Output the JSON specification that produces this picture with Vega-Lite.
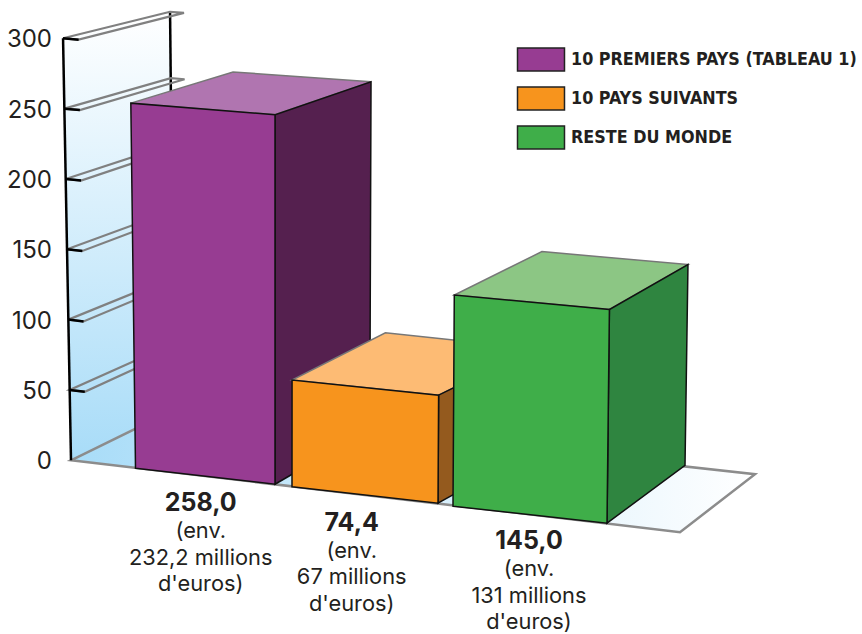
{"$schema":"https://vega.github.io/schema/vega-lite/v6.json","width":862,"height":634,"padding":0,"autosize":{"type":"fit","contains":"padding"},"background":"white","config":{"view":{"stroke":null},"locale":{"number":{"decimal":",","thousands":" ","grouping":[3],"currency":["","€"]}}},"datasets":{"barres":[{"serie":"premiers","valeur":258.0,"detail":"(env.\n232,2 millions\nd'euros)","u":200.7,"v":512},{"serie":"suivants","valeur":74.4,"detail":"(env.\n67 millions\nd'euros)","u":351.7,"v":531.7},{"serie":"reste","valeur":145.0,"detail":"(env.\n131 millions\nd'euros)","u":529,"v":550}],"graduations":[{"valeur":0},{"valeur":50},{"valeur":100},{"valeur":150},{"valeur":200},{"valeur":250},{"valeur":300}],"sommets":[{"famille":"mur","facette":"mur","valeur":300,"u":71,"v":461,"haut":0},{"famille":"mur","facette":"mur","valeur":300,"u":71,"v":461,"haut":1},{"famille":"mur","facette":"mur","valeur":300,"u":174,"v":410.5,"haut":1},{"famille":"mur","facette":"mur","valeur":300,"u":174,"v":410.5,"haut":0},{"famille":"sol","facette":"sol","valeur":0,"u":71,"v":461,"haut":0},{"famille":"sol","facette":"sol","valeur":0,"u":174,"v":410.5,"haut":0},{"famille":"sol","facette":"sol","valeur":0,"u":755,"v":475,"haut":0},{"famille":"sol","facette":"sol","valeur":0,"u":680,"v":533,"haut":0},{"famille":"trait","facette":"fond","valeur":300,"u":174,"v":410.5,"haut":0},{"famille":"trait","facette":"fond","valeur":300,"u":174,"v":410.5,"haut":1},{"famille":"trait","facette":"axe","valeur":300,"u":71,"v":461,"haut":0},{"famille":"trait","facette":"axe","valeur":300,"u":71,"v":461,"haut":1},{"famille":"trait","facette":"t50","valeur":50,"u":71,"v":461,"haut":1},{"famille":"trait","facette":"t50","valeur":50,"u":86,"v":463,"haut":1},{"famille":"trait","facette":"t100","valeur":100,"u":71,"v":461,"haut":1},{"famille":"trait","facette":"t100","valeur":100,"u":86,"v":463,"haut":1},{"famille":"trait","facette":"t150","valeur":150,"u":71,"v":461,"haut":1},{"famille":"trait","facette":"t150","valeur":150,"u":86,"v":463,"haut":1},{"famille":"trait","facette":"t200","valeur":200,"u":71,"v":461,"haut":1},{"famille":"trait","facette":"t200","valeur":200,"u":86,"v":463,"haut":1},{"famille":"trait","facette":"t250","valeur":250,"u":71,"v":461,"haut":1},{"famille":"trait","facette":"t250","valeur":250,"u":86,"v":463,"haut":1},{"famille":"trait","facette":"t300","valeur":300,"u":71,"v":461,"haut":1},{"famille":"trait","facette":"t300","valeur":300,"u":86,"v":463,"haut":1},{"famille":"tablette","facette":"b50","valeur":50,"u":71,"v":461,"haut":1},{"famille":"tablette","facette":"b50","valeur":50,"u":86,"v":463,"haut":1},{"famille":"tablette","facette":"b50","valeur":50,"u":187.4,"v":412,"haut":1},{"famille":"tablette","facette":"b50","valeur":50,"u":174,"v":410.5,"haut":1},{"famille":"tablette","facette":"b100","valeur":100,"u":71,"v":461,"haut":1},{"famille":"tablette","facette":"b100","valeur":100,"u":86,"v":463,"haut":1},{"famille":"tablette","facette":"b100","valeur":100,"u":187.4,"v":412,"haut":1},{"famille":"tablette","facette":"b100","valeur":100,"u":174,"v":410.5,"haut":1},{"famille":"tablette","facette":"b150","valeur":150,"u":71,"v":461,"haut":1},{"famille":"tablette","facette":"b150","valeur":150,"u":86,"v":463,"haut":1},{"famille":"tablette","facette":"b150","valeur":150,"u":187.4,"v":412,"haut":1},{"famille":"tablette","facette":"b150","valeur":150,"u":174,"v":410.5,"haut":1},{"famille":"tablette","facette":"b200","valeur":200,"u":71,"v":461,"haut":1},{"famille":"tablette","facette":"b200","valeur":200,"u":86,"v":463,"haut":1},{"famille":"tablette","facette":"b200","valeur":200,"u":187.4,"v":412,"haut":1},{"famille":"tablette","facette":"b200","valeur":200,"u":174,"v":410.5,"haut":1},{"famille":"tablette","facette":"b250","valeur":250,"u":71,"v":461,"haut":1},{"famille":"tablette","facette":"b250","valeur":250,"u":86,"v":463,"haut":1},{"famille":"tablette","facette":"b250","valeur":250,"u":187.4,"v":412,"haut":1},{"famille":"tablette","facette":"b250","valeur":250,"u":174,"v":410.5,"haut":1},{"famille":"tablette","facette":"b300","valeur":300,"u":71,"v":461,"haut":1},{"famille":"tablette","facette":"b300","valeur":300,"u":86,"v":463,"haut":1},{"famille":"tablette","facette":"b300","valeur":300,"u":187.4,"v":412,"haut":1},{"famille":"tablette","facette":"b300","valeur":300,"u":174,"v":410.5,"haut":1},{"famille":"barre","serie":"premiers","face":"dessus","facette":"premiers dessus","u":135.5,"v":469,"haut":1},{"famille":"barre","serie":"premiers","face":"dessus","facette":"premiers dessus","u":275,"v":485,"haut":1},{"famille":"barre","serie":"premiers","face":"dessus","facette":"premiers dessus","u":369.8,"v":429.7,"haut":1},{"famille":"barre","serie":"premiers","face":"dessus","facette":"premiers dessus","u":234.4,"v":416.4,"haut":1},{"famille":"barre","serie":"premiers","face":"cote","facette":"premiers cote","u":275,"v":485,"haut":0},{"famille":"barre","serie":"premiers","face":"cote","facette":"premiers cote","u":369.8,"v":429.7,"haut":0},{"famille":"barre","serie":"premiers","face":"cote","facette":"premiers cote","u":369.8,"v":429.7,"haut":1},{"famille":"barre","serie":"premiers","face":"cote","facette":"premiers cote","u":275,"v":485,"haut":1},{"famille":"barre","serie":"premiers","face":"avant","facette":"10 PREMIERS PAYS (TABLEAU 1)","u":135.5,"v":469,"haut":0},{"famille":"barre","serie":"premiers","face":"avant","facette":"10 PREMIERS PAYS (TABLEAU 1)","u":275,"v":485,"haut":0},{"famille":"barre","serie":"premiers","face":"avant","facette":"10 PREMIERS PAYS (TABLEAU 1)","u":275,"v":485,"haut":1},{"famille":"barre","serie":"premiers","face":"avant","facette":"10 PREMIERS PAYS (TABLEAU 1)","u":135.5,"v":469,"haut":1},{"famille":"barre","serie":"suivants","face":"dessus","facette":"suivants dessus","u":292,"v":487.5,"haut":1},{"famille":"barre","serie":"suivants","face":"dessus","facette":"suivants dessus","u":438,"v":504,"haut":1},{"famille":"barre","serie":"suivants","face":"dessus","facette":"suivants dessus","u":533,"v":451,"haut":1},{"famille":"barre","serie":"suivants","face":"dessus","facette":"suivants dessus","u":385,"v":434,"haut":1},{"famille":"barre","serie":"suivants","face":"cote","facette":"suivants cote","u":438,"v":504,"haut":0},{"famille":"barre","serie":"suivants","face":"cote","facette":"suivants cote","u":533,"v":451,"haut":0},{"famille":"barre","serie":"suivants","face":"cote","facette":"suivants cote","u":533,"v":451,"haut":1},{"famille":"barre","serie":"suivants","face":"cote","facette":"suivants cote","u":438,"v":504,"haut":1},{"famille":"barre","serie":"suivants","face":"avant","facette":"10 PAYS SUIVANTS","u":292,"v":487.5,"haut":0},{"famille":"barre","serie":"suivants","face":"avant","facette":"10 PAYS SUIVANTS","u":438,"v":504,"haut":0},{"famille":"barre","serie":"suivants","face":"avant","facette":"10 PAYS SUIVANTS","u":438,"v":504,"haut":1},{"famille":"barre","serie":"suivants","face":"avant","facette":"10 PAYS SUIVANTS","u":292,"v":487.5,"haut":1},{"famille":"barre","serie":"reste","face":"dessus","facette":"reste dessus","u":453,"v":507,"haut":1},{"famille":"barre","serie":"reste","face":"dessus","facette":"reste dessus","u":607,"v":524,"haut":1},{"famille":"barre","serie":"reste","face":"dessus","facette":"reste dessus","u":685,"v":466,"haut":1},{"famille":"barre","serie":"reste","face":"dessus","facette":"reste dessus","u":540,"v":450.7,"haut":1},{"famille":"barre","serie":"reste","face":"cote","facette":"reste cote","u":607,"v":524,"haut":0},{"famille":"barre","serie":"reste","face":"cote","facette":"reste cote","u":685,"v":466,"haut":0},{"famille":"barre","serie":"reste","face":"cote","facette":"reste cote","u":685,"v":466,"haut":1},{"famille":"barre","serie":"reste","face":"cote","facette":"reste cote","u":607,"v":524,"haut":1},{"famille":"barre","serie":"reste","face":"avant","facette":"RESTE DU MONDE","u":453,"v":507,"haut":0},{"famille":"barre","serie":"reste","face":"avant","facette":"RESTE DU MONDE","u":607,"v":524,"haut":0},{"famille":"barre","serie":"reste","face":"avant","facette":"RESTE DU MONDE","u":607,"v":524,"haut":1},{"famille":"barre","serie":"reste","face":"avant","facette":"RESTE DU MONDE","u":453,"v":507,"haut":1}]},"data":{"name":"sommets"},"transform":[{"lookup":"serie","from":{"data":{"name":"barres"},"key":"serie","fields":["valeur"]},"as":["valeurBarre"]},{"calculate":"datum.haut * (datum.valeurBarre != null ? datum.valeurBarre : datum.valeur)","as":"h"},{"calculate":"datum.u + datum.h * (datum.u - 275) * (datum.u < 275 ? 0.00013 : 0.00005)","as":"px"},{"calculate":"datum.v - datum.h * (0.73 - 0.0000492 * datum.u + 0.00148 * datum.v)","as":"py"}],"encoding":{"x":{"field":"px","type":"quantitative","axis":null,"scale":{"domain":[0,862],"nice":false,"zero":false}},"y":{"field":"py","type":"quantitative","axis":null,"scale":{"domain":[0,634],"reverse":true,"nice":false,"zero":false}}},"layer":[{"transform":[{"filter":"datum.famille == 'mur'"}],"mark":{"type":"line","interpolate":"linear-closed","stroke":null,"fill":{"gradient":"linear","x1":0,"y1":0,"x2":0,"y2":1,"stops":[{"offset":0,"color":"#ffffff"},{"offset":1,"color":"#a8dcf8"}]}},"encoding":{"detail":{"field":"facette"},"order":{"value":null}}},{"transform":[{"filter":"datum.famille == 'trait' && datum.facette == 'fond'"}],"mark":{"type":"line","stroke":"#000000","strokeWidth":2.5},"encoding":{"detail":{"field":"facette"},"order":{"value":null}}},{"transform":[{"filter":"datum.famille == 'tablette'"}],"mark":{"type":"line","interpolate":"linear-closed","stroke":"#808080","strokeWidth":2.2},"encoding":{"detail":{"field":"facette"},"order":{"value":null}}},{"transform":[{"filter":"datum.famille == 'sol'"}],"mark":{"type":"line","interpolate":"linear-closed","stroke":"#8c8c8c","strokeWidth":2.5,"fill":{"gradient":"linear","x1":0,"y1":0,"x2":1,"y2":0,"stops":[{"offset":0,"color":"#a8dcf8"},{"offset":1,"color":"#ffffff"}]}},"encoding":{"detail":{"field":"facette"},"order":{"value":null}}},{"transform":[{"filter":"datum.famille == 'trait' && datum.facette != 'fond'"}],"mark":{"type":"line","stroke":"#000000","strokeWidth":2.5},"encoding":{"detail":{"field":"facette"},"order":{"value":null}}},{"transform":[{"filter":"datum.famille == 'barre'"}],"mark":{"type":"line","interpolate":"linear-closed","strokeWidth":1.5},"encoding":{"detail":{"field":"facette"},"order":{"value":null},"fill":{"field":"facette","type":"nominal","scale":{"domain":["premiers dessus","premiers cote","10 PREMIERS PAYS (TABLEAU 1)","suivants dessus","suivants cote","10 PAYS SUIVANTS","reste dessus","reste cote","RESTE DU MONDE"],"range":["#b075b0","#55204f","#973c92","#fdbb74","#945a1e","#f7941d","#8cc684","#2f8540","#3fae49"]},"legend":{"orient":"none","legendX":528.5,"legendY":47,"title":null,"values":["10 PREMIERS PAYS (TABLEAU 1)","10 PAYS SUIVANTS","RESTE DU MONDE"],"symbolType":"M-2,-0.98H2V0.98H-2Z","symbolSize":552,"symbolStrokeColor":"#222222","symbolStrokeWidth":1.5,"rowPadding":8,"labelFont":"DejaVu Sans Condensed","labelFontWeight":"bold","labelFontSize":17.8,"labelColor":"#231f20","labelLimit":340,"labelOffset":17.5}},"stroke":{"field":"face","type":"nominal","legend":null,"scale":{"domain":["avant","cote","dessus"],"range":["#111111","#111111","#777777"]}}}},{"data":{"name":"graduations"},"transform":[{"calculate":"461 - datum.valeur * 1.4088","as":"py"},{"calculate":"52","as":"px"}],"mark":{"type":"text","align":"right","baseline":"middle","font":"Inter","fontSize":24,"fill":"#231f20","dy":2},"encoding":{"text":{"field":"valeur","type":"quantitative"}}},{"data":{"name":"barres"},"transform":[{"calculate":"datum.u","as":"px"},{"calculate":"datum.v","as":"py"}],"mark":{"type":"text","align":"center","baseline":"alphabetic","font":"Inter","fontWeight":"bold","fontSize":25,"fill":"#231f20"},"encoding":{"text":{"field":"valeur","type":"quantitative","format":".1f"}}},{"data":{"name":"barres"},"transform":[{"calculate":"datum.u","as":"px"},{"calculate":"datum.v","as":"py"}],"mark":{"type":"text","align":"center","baseline":"alphabetic","font":"Inter","fontSize":21.8,"fill":"#231f20","dy":27,"lineBreak":"\n","lineHeight":26.5},"encoding":{"text":{"field":"detail","type":"nominal"}}}]}
